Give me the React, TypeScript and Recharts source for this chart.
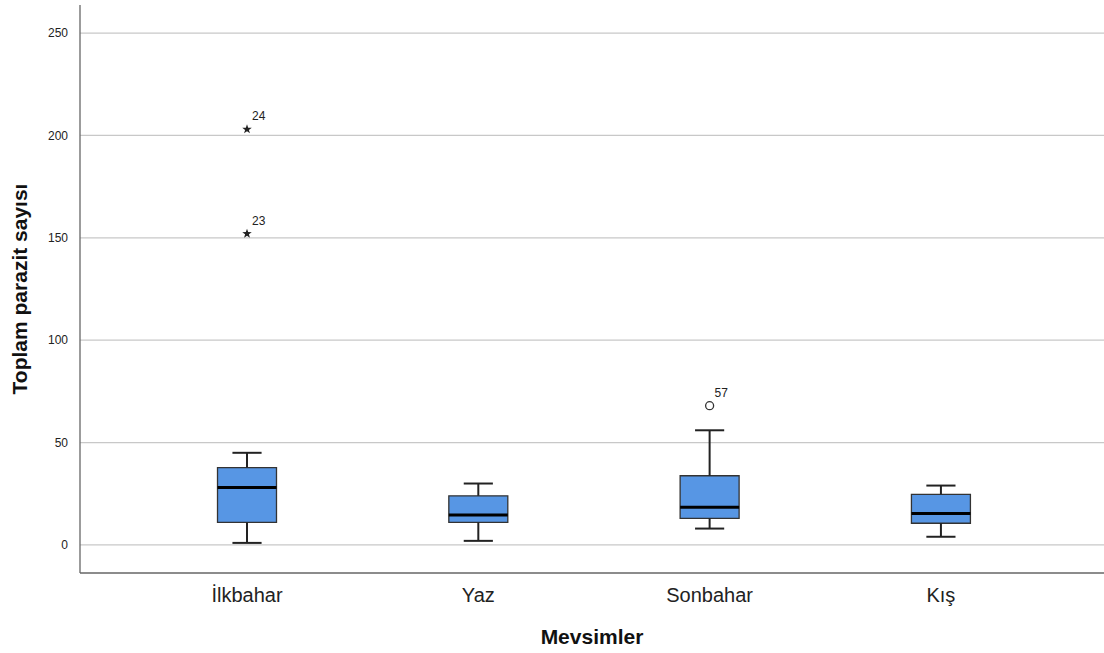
import React from "react";
import {
  ComposedChart, XAxis, YAxis, ReferenceArea, ReferenceLine, Scatter,
} from "recharts";

/* ── Data ───────────────────────────────────────────────────────── */
const seasons = ["İlkbahar", "Yaz", "Sonbahar", "Kış"];
const whiskerLow = [1, 2, 8, 4];
const q1 = [11, 11, 13, 10.6];
const median = [28, 14.6, 18.4, 15.3];
const q3 = [37.8, 24, 33.8, 24.7];
const whiskerHigh = [45, 30, 56, 29];

const outlierSeason = [0, 0, 2];
const outlierValue = [152, 203, 68];
const outlierCase = [23, 24, 57];
const outlierKind = ["extreme", "extreme", "outlier"];

const yTicks = [0, 50, 100, 150, 200, 250];

/* ── Styles ─────────────────────────────────────────────────────── */
const FONT = "'Liberation Sans', Arial, sans-serif";
const BOX_FILL = "#5796e4";
const BOX_HALF = 0.1275;
const CAP_HALF = 0.063;

const outlierData = outlierSeason.map((s, i) => ({
  x: s, y: outlierValue[i], id: outlierCase[i], kind: outlierKind[i],
}));

function starPoints(cx: number, cy: number, ro: number, ri: number) {
  const pts: string[] = [];
  for (let k = 0; k < 10; k++) {
    const r = k % 2 === 0 ? ro : ri;
    const a = -Math.PI / 2 + (k * Math.PI) / 5;
    pts.push(`${cx + r * Math.cos(a)},${cy + r * Math.sin(a)}`);
  }
  return pts.join(" ");
}

const OutlierShape = (props: any) => {
  const { cx, cy, payload } = props;
  if (cx == null || cy == null) return null;
  return (
    <g>
      {payload.kind === "extreme" ? (
        <polygon points={starPoints(cx, cy, 5, 2)} fill="#222" />
      ) : (
        <circle cx={cx} cy={cy} r={4} fill="#fff" stroke="#333" strokeWidth={1.3} />
      )}
      <text x={cx + 5} y={cy - 9} fontSize={12} fill="#222" fontFamily={FONT}>
        {payload.id}
      </text>
    </g>
  );
};

export default function App() {
  return (
    <div style={{ position: "absolute", left: 0, top: 0, width: 1104, height: 653, background: "#fff", fontFamily: FONT }}>
      <ComposedChart width={1104} height={653} margin={{ top: 5, right: 0, bottom: 0, left: 0 }}>
        <XAxis
          type="number" dataKey="x" domain={[-0.722, 3.705]} ticks={[0, 1, 2, 3]}
          allowDataOverflow height={80}
          tickFormatter={(v: number) => seasons[v] ?? ""}
          tickLine={false} tickMargin={9}
          axisLine={{ stroke: "#666", strokeWidth: 1.3 }}
          tick={{ fill: "#222", fontSize: 20, fontFamily: FONT }}
          label={{ value: "Mevsimler", position: "insideBottom", offset: 9, fill: "#111", fontSize: 21, fontWeight: 700, fontFamily: FONT }}
        />
        <YAxis
          type="number" domain={[-13.7, 263.7]} ticks={yTicks} allowDataOverflow width={80}
          tickLine={false} tickMargin={6}
          axisLine={{ stroke: "#666", strokeWidth: 1.3 }}
          tick={{ fill: "#222", fontSize: 12, fontFamily: FONT }}
          label={{
            value: "Toplam parazit sayısı", angle: -90, position: "insideLeft", offset: 20,
            fill: "#111", fontSize: 21, fontWeight: 700, fontFamily: FONT,
            style: { textAnchor: "middle" },
          }}
        />

        {/* horizontal grid */}
        {yTicks.map((t) => (
          <ReferenceLine key={`g-${t}`} y={t} stroke="#c8c8c8" strokeWidth={1.3} />
        ))}

        {/* whiskers */}
        {seasons.map((s, i) => (
          <ReferenceLine key={`wu-${s}`} segment={[{ x: i, y: q3[i] }, { x: i, y: whiskerHigh[i] }]}
            stroke="#222" strokeWidth={2} />
        ))}
        {seasons.map((s, i) => (
          <ReferenceLine key={`wl-${s}`} segment={[{ x: i, y: q1[i] }, { x: i, y: whiskerLow[i] }]}
            stroke="#222" strokeWidth={2} />
        ))}
        {seasons.map((s, i) => (
          <ReferenceLine key={`cu-${s}`} segment={[{ x: i - CAP_HALF, y: whiskerHigh[i] }, { x: i + CAP_HALF, y: whiskerHigh[i] }]}
            stroke="#222" strokeWidth={2} />
        ))}
        {seasons.map((s, i) => (
          <ReferenceLine key={`cl-${s}`} segment={[{ x: i - CAP_HALF, y: whiskerLow[i] }, { x: i + CAP_HALF, y: whiskerLow[i] }]}
            stroke="#222" strokeWidth={2} />
        ))}

        {/* boxes */}
        {seasons.map((s, i) => (
          <ReferenceArea key={`box-${s}`} x1={i - BOX_HALF} x2={i + BOX_HALF} y1={q1[i]} y2={q3[i]}
            fill={BOX_FILL} fillOpacity={1} stroke="#333" strokeWidth={1.3} />
        ))}

        {/* medians */}
        {seasons.map((s, i) => (
          <ReferenceLine key={`med-${s}`} segment={[{ x: i - BOX_HALF, y: median[i] }, { x: i + BOX_HALF, y: median[i] }]}
            stroke="#000" strokeWidth={3} />
        ))}

        <Scatter data={outlierData} dataKey="y" isAnimationActive={false} shape={OutlierShape} />
      </ComposedChart>
    </div>
  );
}
